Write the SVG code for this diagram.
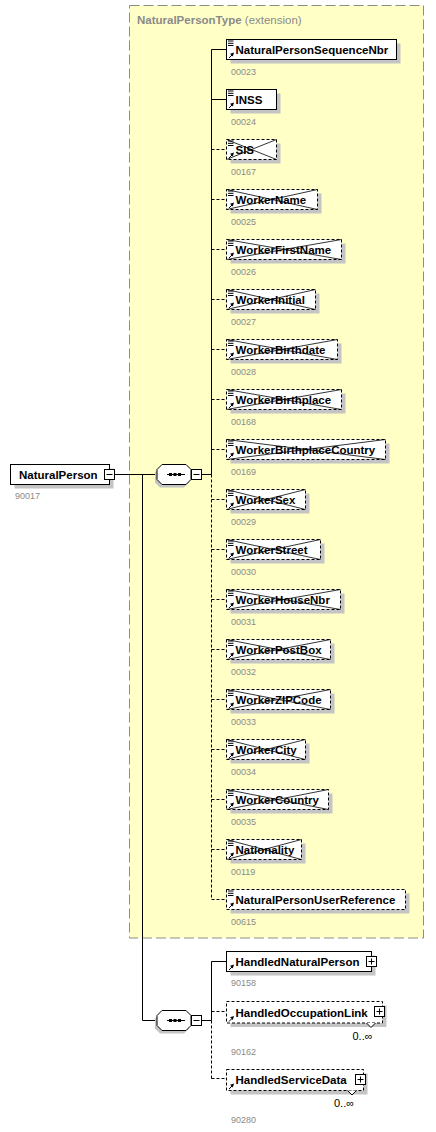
<svg xmlns="http://www.w3.org/2000/svg" xmlns:xlink="http://www.w3.org/1999/xlink" width="436" height="1132" viewBox="0 0 436 1132">
<style>
.bg{fill:#ffffc6;stroke:#8c8c8c;stroke-width:1;stroke-dasharray:10,4}
.box{fill:#fff;stroke:#000;stroke-width:1}
.opt{stroke-dasharray:3,2}
.sh{fill:#c4c4c4}
.t{font-family:"Liberation Sans",Arial,sans-serif;font-weight:bold;font-size:11.5px;fill:#000}
.id{font-family:"Liberation Sans",Arial,sans-serif;font-size:9px;fill:#8a8a8a}
.m{font-family:"Liberation Sans",Arial,sans-serif;font-size:11px;fill:#000}
.ttl{font-family:"Liberation Sans",Arial,sans-serif;font-size:11.5px;fill:#8a8a8a}
.c{stroke:#000;stroke-width:1;fill:none}
.d{stroke-dasharray:3,2}
.x{stroke:#000;stroke-width:0.8;fill:none}
.ic{stroke:#000;stroke-width:1;fill:none}
</style>
<defs>
<g id="arr"><path class="ic" d="M2.5 18.5L5.5 15.5"/><polygon points="7.5,13 3.6,14.2 6.3,16.9" fill="#000"/></g>
<g id="ico"><path class="ic" d="M1.5 1.5H7M1.5 3.8H7M1.5 6H7"/><use href="#arr"/></g>
<g id="seq"><polygon points="3,3 27,3 32,8 32,18 27,23 3,23 -2,18 -2,8" class="sh"/><polygon points="5,0 29,0 34,5 34,15 29,20 5,20 0,15 0,5" class="box"/><path class="c" d="M10 10H28"/><rect x="12" y="8.5" width="3" height="3"/><rect x="16.5" y="8.5" width="3" height="3"/><rect x="21" y="8.5" width="3" height="3"/></g>
<g id="minus"><rect x="0" y="0" width="10" height="10" class="box"/><path class="c" d="M2 5H8"/></g>
<g id="plus"><rect x="0" y="0" width="10" height="10" class="box"/><path class="c" d="M2 5H8M5 2V8"/></g>
</defs>

<g id="type-box">
<rect class="bg" x="129.5" y="5.5" width="294" height="932.5"/>
<text class="ttl" x="137" y="24"><tspan font-weight="bold">NaturalPersonType</tspan> (extension)</text>
</g>

<g id="connectors">
<path class="c" d="M114.5 474.5H157"/>
<path class="c" d="M201.5 474.5H211.5"/>
<path class="c" d="M211.5 49.5V474.5"/>
<path class="c d" d="M211.5 474.5V899.5"/>
<path class="c" d="M211.5 49.5H226.5M211.5 99.5H226.5"/>
<path class="c d" d="M211.5 149.5H226.5M211.5 199.5H226.5M211.5 249.5H226.5M211.5 299.5H226.5M211.5 349.5H226.5M211.5 399.5H226.5M211.5 449.5H226.5M211.5 499.5H226.5M211.5 549.5H226.5M211.5 599.5H226.5M211.5 649.5H226.5M211.5 699.5H226.5M211.5 749.5H226.5M211.5 799.5H226.5M211.5 849.5H226.5M211.5 899.5H226.5"/>
<path class="c" d="M142.5 474.5V1020.5H157"/>
<path class="c" d="M201.5 1020.5H211.5"/>
<path class="c" d="M211.5 961.5V1020.5H211.5M211.5 961.5H226.5"/>
<path class="c d" d="M211.5 1020.5V1078.5M211.5 1011.5H226.5M211.5 1078.5H226.5"/>
</g>

<g id="NaturalPerson">
<rect class="sh" x="14.5" y="468.5" width="99" height="20"/>
<rect class="box" x="10.5" y="464.5" width="99" height="20"/>
<text class="t" x="19" y="478.5">NaturalPerson</text>
<use href="#minus" x="104.5" y="469.5"/>
<text class="id" x="15" y="499">90017</text>
</g>

<g id="sequence1">
<use href="#seq" x="157" y="464.5"/>
<use href="#minus" x="191.5" y="469.5"/>
</g>

<g id="sequence2">
<use href="#seq" x="157" y="1010.5"/>
<use href="#minus" x="191.5" y="1015.5"/>
</g>

<g id="NaturalPersonSequenceNbr">
<rect class="sh" x="230.5" y="43.5" width="170" height="20"/>
<rect class="box" x="226.5" y="39.5" width="170" height="20"/>
<use href="#ico" x="226.5" y="39.5"/>
<text class="t" x="235.5" y="54">NaturalPersonSequenceNbr</text>
<text class="id" x="231" y="74.5">00023</text>
</g>

<g id="INSS">
<rect class="sh" x="230.5" y="93.5" width="50" height="20"/>
<rect class="box" x="226.5" y="89.5" width="50" height="20"/>
<use href="#ico" x="226.5" y="89.5"/>
<text class="t" x="235.5" y="104">INSS</text>
<text class="id" x="231" y="124.5">00024</text>
</g>

<g id="SIS">
<rect class="sh" x="230.5" y="143.5" width="50" height="20"/>
<rect class="box opt" x="226.5" y="139.5" width="50" height="20"/>
<path class="x" d="M226.5 139.5L276.5 159.5M226.5 159.5L276.5 139.5"/>
<use href="#ico" x="226.5" y="139.5"/>
<text class="t" x="235.5" y="154">SIS</text>
<text class="id" x="231" y="174.5">00167</text>
</g>

<g id="WorkerName">
<rect class="sh" x="230.5" y="193.5" width="91" height="20"/>
<rect class="box opt" x="226.5" y="189.5" width="91" height="20"/>
<path class="x" d="M226.5 189.5L317.5 209.5M226.5 209.5L317.5 189.5"/>
<use href="#ico" x="226.5" y="189.5"/>
<text class="t" x="235.5" y="204">WorkerName</text>
<text class="id" x="231" y="224.5">00025</text>
</g>

<g id="WorkerFirstName">
<rect class="sh" x="230.5" y="243.5" width="115" height="20"/>
<rect class="box opt" x="226.5" y="239.5" width="115" height="20"/>
<path class="x" d="M226.5 239.5L341.5 259.5M226.5 259.5L341.5 239.5"/>
<use href="#ico" x="226.5" y="239.5"/>
<text class="t" x="235.5" y="254">WorkerFirstName</text>
<text class="id" x="231" y="274.5">00026</text>
</g>

<g id="WorkerInitial">
<rect class="sh" x="230.5" y="293.5" width="89" height="20"/>
<rect class="box opt" x="226.5" y="289.5" width="89" height="20"/>
<path class="x" d="M226.5 289.5L315.5 309.5M226.5 309.5L315.5 289.5"/>
<use href="#ico" x="226.5" y="289.5"/>
<text class="t" x="235.5" y="304">WorkerInitial</text>
<text class="id" x="231" y="324.5">00027</text>
</g>

<g id="WorkerBirthdate">
<rect class="sh" x="230.5" y="343.5" width="111" height="20"/>
<rect class="box opt" x="226.5" y="339.5" width="111" height="20"/>
<path class="x" d="M226.5 339.5L337.5 359.5M226.5 359.5L337.5 339.5"/>
<use href="#ico" x="226.5" y="339.5"/>
<text class="t" x="235.5" y="354">WorkerBirthdate</text>
<text class="id" x="231" y="374.5">00028</text>
</g>

<g id="WorkerBirthplace">
<rect class="sh" x="230.5" y="393.5" width="115" height="20"/>
<rect class="box opt" x="226.5" y="389.5" width="115" height="20"/>
<path class="x" d="M226.5 389.5L341.5 409.5M226.5 409.5L341.5 389.5"/>
<use href="#ico" x="226.5" y="389.5"/>
<text class="t" x="235.5" y="404">WorkerBirthplace</text>
<text class="id" x="231" y="424.5">00168</text>
</g>

<g id="WorkerBirthplaceCountry">
<rect class="sh" x="230.5" y="443.5" width="159" height="20"/>
<rect class="box opt" x="226.5" y="439.5" width="159" height="20"/>
<path class="x" d="M226.5 439.5L385.5 459.5M226.5 459.5L385.5 439.5"/>
<use href="#ico" x="226.5" y="439.5"/>
<text class="t" x="235.5" y="454">WorkerBirthplaceCountry</text>
<text class="id" x="231" y="474.5">00169</text>
</g>

<g id="WorkerSex">
<rect class="sh" x="230.5" y="493.5" width="79" height="20"/>
<rect class="box opt" x="226.5" y="489.5" width="79" height="20"/>
<path class="x" d="M226.5 489.5L305.5 509.5M226.5 509.5L305.5 489.5"/>
<use href="#ico" x="226.5" y="489.5"/>
<text class="t" x="235.5" y="504">WorkerSex</text>
<text class="id" x="231" y="524.5">00029</text>
</g>

<g id="WorkerStreet">
<rect class="sh" x="230.5" y="543.5" width="94" height="20"/>
<rect class="box opt" x="226.5" y="539.5" width="94" height="20"/>
<path class="x" d="M226.5 539.5L320.5 559.5M226.5 559.5L320.5 539.5"/>
<use href="#ico" x="226.5" y="539.5"/>
<text class="t" x="235.5" y="554">WorkerStreet</text>
<text class="id" x="231" y="574.5">00030</text>
</g>

<g id="WorkerHouseNbr">
<rect class="sh" x="230.5" y="593.5" width="114" height="20"/>
<rect class="box opt" x="226.5" y="589.5" width="114" height="20"/>
<path class="x" d="M226.5 589.5L340.5 609.5M226.5 609.5L340.5 589.5"/>
<use href="#ico" x="226.5" y="589.5"/>
<text class="t" x="235.5" y="604">WorkerHouseNbr</text>
<text class="id" x="231" y="624.5">00031</text>
</g>

<g id="WorkerPostBox">
<rect class="sh" x="230.5" y="643.5" width="104" height="20"/>
<rect class="box opt" x="226.5" y="639.5" width="104" height="20"/>
<path class="x" d="M226.5 639.5L330.5 659.5M226.5 659.5L330.5 639.5"/>
<use href="#ico" x="226.5" y="639.5"/>
<text class="t" x="235.5" y="654">WorkerPostBox</text>
<text class="id" x="231" y="674.5">00032</text>
</g>

<g id="WorkerZIPCode">
<rect class="sh" x="230.5" y="693.5" width="104" height="20"/>
<rect class="box opt" x="226.5" y="689.5" width="104" height="20"/>
<path class="x" d="M226.5 689.5L330.5 709.5M226.5 709.5L330.5 689.5"/>
<use href="#ico" x="226.5" y="689.5"/>
<text class="t" x="235.5" y="704">WorkerZIPCode</text>
<text class="id" x="231" y="724.5">00033</text>
</g>

<g id="WorkerCity">
<rect class="sh" x="230.5" y="743.5" width="79" height="20"/>
<rect class="box opt" x="226.5" y="739.5" width="79" height="20"/>
<path class="x" d="M226.5 739.5L305.5 759.5M226.5 759.5L305.5 739.5"/>
<use href="#ico" x="226.5" y="739.5"/>
<text class="t" x="235.5" y="754">WorkerCity</text>
<text class="id" x="231" y="774.5">00034</text>
</g>

<g id="WorkerCountry">
<rect class="sh" x="230.5" y="793.5" width="102" height="20"/>
<rect class="box opt" x="226.5" y="789.5" width="102" height="20"/>
<path class="x" d="M226.5 789.5L328.5 809.5M226.5 809.5L328.5 789.5"/>
<use href="#ico" x="226.5" y="789.5"/>
<text class="t" x="235.5" y="804">WorkerCountry</text>
<text class="id" x="231" y="824.5">00035</text>
</g>

<g id="Nationality">
<rect class="sh" x="230.5" y="843.5" width="75" height="20"/>
<rect class="box opt" x="226.5" y="839.5" width="75" height="20"/>
<path class="x" d="M226.5 839.5L301.5 859.5M226.5 859.5L301.5 839.5"/>
<use href="#ico" x="226.5" y="839.5"/>
<text class="t" x="235.5" y="854">Nationality</text>
<text class="id" x="231" y="874.5">00119</text>
</g>

<g id="NaturalPersonUserReference">
<rect class="sh" x="230.5" y="893.5" width="179" height="20"/>
<rect class="box opt" x="226.5" y="889.5" width="179" height="20"/>
<use href="#ico" x="226.5" y="889.5"/>
<text class="t" x="235.5" y="904">NaturalPersonUserReference</text>
<text class="id" x="231" y="924.5">00615</text>
</g>

<g id="HandledNaturalPerson">
<rect class="sh" x="230.5" y="955.5" width="145" height="20"/>
<rect class="box" x="226.5" y="951.5" width="145" height="20"/>
<use href="#arr" x="226.5" y="951.5"/>
<text class="t" x="235.5" y="966">HandledNaturalPerson</text>
<use href="#plus" x="366.5" y="956.5"/>
<text class="id" x="231" y="986">90158</text>
</g>

<g id="HandledOccupationLink">
<rect class="sh" x="230.5" y="1005.5" width="156" height="21.5"/>
<rect class="box opt" x="226.5" y="1001.5" width="156" height="21.5"/>
<use href="#arr" x="226.5" y="1003"/>
<text class="t" x="235.5" y="1016.5">HandledOccupationLink</text>
<use href="#plus" x="374.5" y="1006.5"/>
<polyline class="box" points="366.5,1023 371,1027.5 375.5,1023"/>
<text class="m" x="352.5" y="1039.5">0..∞</text>
<text class="id" x="231" y="1054.5">90162</text>
</g>

<g id="HandledServiceData">
<rect class="sh" x="230.5" y="1073.5" width="137" height="21"/>
<rect class="box opt" x="226.5" y="1069.5" width="137" height="21"/>
<use href="#arr" x="226.5" y="1070.5"/>
<text class="t" x="235.5" y="1084">HandledServiceData</text>
<use href="#plus" x="355.5" y="1074.5"/>
<polyline class="box" points="347.5,1090.5 352,1095 356.5,1090.5"/>
<text class="m" x="334" y="1107">0..∞</text>
<text class="id" x="231" y="1123">90280</text>
</g>
</svg>
